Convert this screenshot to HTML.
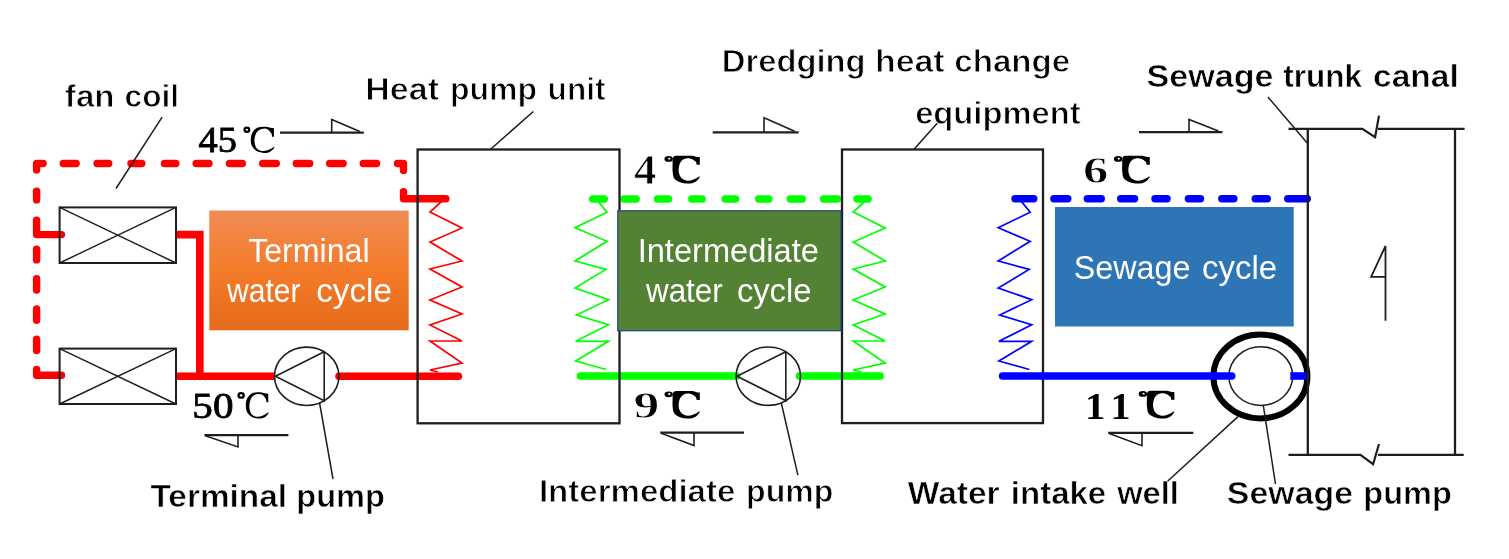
<!DOCTYPE html>
<html><head><meta charset="utf-8"><style>
html,body{margin:0;padding:0;background:#fff;}
svg{display:block;filter:blur(0.6px);}
</style></head><body>
<svg width="1509" height="559" viewBox="0 0 1509 559">
<rect width="1509" height="559" fill="#fff"/>
<line x1="63.3" y1="163.5" x2="76.1" y2="163.5" stroke="#ff0000" stroke-width="7.4" stroke-linecap="round"/>
<line x1="97.1" y1="163.5" x2="108.7" y2="163.5" stroke="#ff0000" stroke-width="7.4" stroke-linecap="round"/>
<line x1="131.0" y1="163.5" x2="141.8" y2="163.5" stroke="#ff0000" stroke-width="7.4" stroke-linecap="round"/>
<line x1="164.5" y1="163.5" x2="175.8" y2="163.5" stroke="#ff0000" stroke-width="7.4" stroke-linecap="round"/>
<line x1="196.2" y1="163.5" x2="209.0" y2="163.5" stroke="#ff0000" stroke-width="7.4" stroke-linecap="round"/>
<line x1="229.5" y1="163.5" x2="242.3" y2="163.5" stroke="#ff0000" stroke-width="7.4" stroke-linecap="round"/>
<line x1="262.7" y1="163.5" x2="276.3" y2="163.5" stroke="#ff0000" stroke-width="7.4" stroke-linecap="round"/>
<line x1="296.3" y1="163.5" x2="309.7" y2="163.5" stroke="#ff0000" stroke-width="7.4" stroke-linecap="round"/>
<line x1="329.7" y1="163.5" x2="343.1" y2="163.5" stroke="#ff0000" stroke-width="7.4" stroke-linecap="round"/>
<line x1="363.3" y1="163.5" x2="376.5" y2="163.5" stroke="#ff0000" stroke-width="7.4" stroke-linecap="round"/>
<polyline points="36.6,169.9 36.6,163.5 43.099999999999994,163.5" fill="none" stroke="#ff0000" stroke-width="7.4" stroke-linecap="round" stroke-linejoin="round"/>
<polyline points="397.5,163.5 403.5,163.5 403.5,170.4" fill="none" stroke="#ff0000" stroke-width="7.4" stroke-linecap="round" stroke-linejoin="round"/>
<polyline points="403.5,191.79999999999998 403.5,198.8 445.90000000000003,198.8" fill="none" stroke="#ff0000" stroke-width="7.4" stroke-linecap="round" stroke-linejoin="round"/>
<line x1="36.6" y1="191.2" x2="36.6" y2="199.9" stroke="#ff0000" stroke-width="7.4" stroke-linecap="round"/>
<line x1="36.6" y1="249.1" x2="36.6" y2="259.9" stroke="#ff0000" stroke-width="7.4" stroke-linecap="round"/>
<line x1="36.6" y1="278.8" x2="36.6" y2="290.0" stroke="#ff0000" stroke-width="7.4" stroke-linecap="round"/>
<line x1="36.6" y1="309.0" x2="36.6" y2="320.3" stroke="#ff0000" stroke-width="7.4" stroke-linecap="round"/>
<line x1="36.6" y1="339.3" x2="36.6" y2="350.5" stroke="#ff0000" stroke-width="7.4" stroke-linecap="round"/>
<polyline points="36.6,220.1 36.6,234.6 61.5,234.6" fill="none" stroke="#ff0000" stroke-width="7.4" stroke-linecap="round" stroke-linejoin="round"/>
<polyline points="36.6,369.5 36.6,375.2 61.5,375.2" fill="none" stroke="#ff0000" stroke-width="7.4" stroke-linecap="round" stroke-linejoin="round"/>
<polyline points="176,234.6 199.8,234.6 199.8,376.2" fill="none" stroke="#ff0000" stroke-width="7.6" stroke-linecap="butt" stroke-linejoin="miter"/>
<line x1="176" y1="376.2" x2="275" y2="376.2" stroke="#ff0000" stroke-width="7.6" stroke-linecap="butt"/>
<line x1="339" y1="376.2" x2="458.4" y2="376.2" stroke="#ff0000" stroke-width="7.6" stroke-linecap="round"/>
<polyline points="442,201 430,212 462,228 430,242 462,261 430,269 462,287 430,300 462,314 430,325 462,341 430,341 462,363 430,370 438,372" fill="none" stroke="#ff0000" stroke-width="1.7" stroke-linecap="butt" stroke-linejoin="miter"/>
<line x1="592.7" y1="199" x2="604.3" y2="199" stroke="#00ff00" stroke-width="7.4" stroke-linecap="round"/>
<line x1="624.1" y1="199" x2="636.2" y2="199" stroke="#00ff00" stroke-width="7.4" stroke-linecap="round"/>
<line x1="657.5" y1="199" x2="668.7" y2="199" stroke="#00ff00" stroke-width="7.4" stroke-linecap="round"/>
<line x1="691.8" y1="199" x2="702.1" y2="199" stroke="#00ff00" stroke-width="7.4" stroke-linecap="round"/>
<line x1="725.2" y1="199" x2="735.5" y2="199" stroke="#00ff00" stroke-width="7.4" stroke-linecap="round"/>
<line x1="758.7" y1="199" x2="768.9" y2="199" stroke="#00ff00" stroke-width="7.4" stroke-linecap="round"/>
<line x1="790.2" y1="199" x2="802.3" y2="199" stroke="#00ff00" stroke-width="7.4" stroke-linecap="round"/>
<line x1="823.6" y1="199" x2="837.5" y2="199" stroke="#00ff00" stroke-width="7.4" stroke-linecap="round"/>
<line x1="857.0" y1="199" x2="868.1" y2="199" stroke="#00ff00" stroke-width="7.4" stroke-linecap="round"/>
<polyline points="598.5,201.9 607,212.2 575,227.8 607,241.3 575,261 606,269.4 575,288 608.5,299.7 576.5,315 608.5,324.8 575.7,341.3 608.5,341.3 575.7,361 606.2,369.5" fill="none" stroke="#00ff00" stroke-width="1.7" stroke-linecap="butt" stroke-linejoin="miter"/>
<polyline points="865.2,201 853.2,212 885.2,228 853.2,242 885.2,261 853.2,269 885.2,287 853.2,300 885.2,314 853.2,325 885.2,341 853.2,341 885.2,363 853.2,370 861.2,372" fill="none" stroke="#00ff00" stroke-width="1.7" stroke-linecap="butt" stroke-linejoin="miter"/>
<line x1="580.5" y1="376" x2="736.5" y2="376" stroke="#00ff00" stroke-width="7.6" stroke-linecap="round"/>
<line x1="799.5" y1="376" x2="880.2" y2="376" stroke="#00ff00" stroke-width="7.6" stroke-linecap="round"/>
<line x1="1015.0" y1="198.7" x2="1033.8" y2="198.7" stroke="#0000ff" stroke-width="7.4" stroke-linecap="round"/>
<line x1="1053.9" y1="198.7" x2="1067.8" y2="198.7" stroke="#0000ff" stroke-width="7.4" stroke-linecap="round"/>
<line x1="1087.3" y1="198.7" x2="1101.3" y2="198.7" stroke="#0000ff" stroke-width="7.4" stroke-linecap="round"/>
<line x1="1120.7" y1="198.7" x2="1134.6" y2="198.7" stroke="#0000ff" stroke-width="7.4" stroke-linecap="round"/>
<line x1="1155.0" y1="198.7" x2="1167.1" y2="198.7" stroke="#0000ff" stroke-width="7.4" stroke-linecap="round"/>
<line x1="1188.4" y1="198.7" x2="1200.5" y2="198.7" stroke="#0000ff" stroke-width="7.4" stroke-linecap="round"/>
<line x1="1221.8" y1="198.7" x2="1233.9" y2="198.7" stroke="#0000ff" stroke-width="7.4" stroke-linecap="round"/>
<line x1="1255.2" y1="198.7" x2="1267.3" y2="198.7" stroke="#0000ff" stroke-width="7.4" stroke-linecap="round"/>
<line x1="1287.7" y1="198.7" x2="1307.3" y2="198.7" stroke="#0000ff" stroke-width="7.4" stroke-linecap="round"/>
<polyline points="1021.7,201.9 1030.2,212.2 998.2,227.8 1030.2,241.3 998.2,261 1029.2,269.4 998.2,288 1031.7,299.7 999.7,315 1031.7,324.8 998.9000000000001,341.3 1031.7,341.3 998.9000000000001,361 1029.4,369.5" fill="none" stroke="#0000ff" stroke-width="1.7" stroke-linecap="butt" stroke-linejoin="miter"/>
<rect x="59.6" y="207.4" width="116.4" height="55.599999999999994" fill="none" stroke="#1e1e1e" stroke-width="2"/>
<line x1="59.6" y1="207.4" x2="176" y2="263" stroke="#1e1e1e" stroke-width="1.4" stroke-linecap="butt"/>
<line x1="59.6" y1="263" x2="176" y2="207.4" stroke="#1e1e1e" stroke-width="1.4" stroke-linecap="butt"/>
<rect x="59.6" y="348.6" width="116.4" height="55.39999999999998" fill="none" stroke="#1e1e1e" stroke-width="2"/>
<line x1="59.6" y1="348.6" x2="176" y2="404" stroke="#1e1e1e" stroke-width="1.4" stroke-linecap="butt"/>
<line x1="59.6" y1="404" x2="176" y2="348.6" stroke="#1e1e1e" stroke-width="1.4" stroke-linecap="butt"/>
<line x1="162.1" y1="117.2" x2="116" y2="188.5" stroke="#1e1e1e" stroke-width="1.5" stroke-linecap="butt"/>
<rect x="417.6" y="149.5" width="201.9" height="273.8" fill="none" stroke="#1e1e1e" stroke-width="2.3"/>
<line x1="533.3" y1="111.5" x2="490.3" y2="149.5" stroke="#1e1e1e" stroke-width="1.5" stroke-linecap="butt"/>
<rect x="842" y="149.5" width="201" height="273.6" fill="none" stroke="#1e1e1e" stroke-width="2.3"/>
<line x1="939" y1="121.2" x2="913.8" y2="149.5" stroke="#1e1e1e" stroke-width="1.5" stroke-linecap="butt"/>
<ellipse cx="306.7" cy="376.3" rx="32.2" ry="29.2" fill="none" stroke="#1e1e1e" stroke-width="1.6"/>
<polyline points="324.2,351.8 275.4,376.3 324.2,400.8 324.2,351.8" fill="none" stroke="#1e1e1e" stroke-width="1.6" stroke-linecap="butt" stroke-linejoin="miter"/>
<ellipse cx="768.3" cy="376.2" rx="32.2" ry="29.2" fill="none" stroke="#1e1e1e" stroke-width="1.6"/>
<polyline points="785.8,351.7 737.0,376.2 785.8,400.7 785.8,351.7" fill="none" stroke="#1e1e1e" stroke-width="1.6" stroke-linecap="butt" stroke-linejoin="miter"/>
<line x1="319.5" y1="402.5" x2="333" y2="479" stroke="#1e1e1e" stroke-width="1.5" stroke-linecap="butt"/>
<line x1="781.2" y1="402.5" x2="797.9" y2="475.1" stroke="#1e1e1e" stroke-width="1.5" stroke-linecap="butt"/>
<ellipse cx="1260.4" cy="376.4" rx="47.0" ry="42.0" fill="none" stroke="#000" stroke-width="6"/>
<ellipse cx="1260.8" cy="376.1" rx="31.9" ry="29.3" fill="none" stroke="#1e1e1e" stroke-width="1.5"/>
<line x1="1002.5999999999999" y1="376" x2="1231.7" y2="376" stroke="#0000ff" stroke-width="7.6" stroke-linecap="round"/>
<line x1="1290.3" y1="376" x2="1306.6" y2="376" stroke="#0000ff" stroke-width="7.6" stroke-linecap="butt"/>
<line x1="1263.3" y1="405.4" x2="1275.5" y2="484.1" stroke="#1e1e1e" stroke-width="1.5" stroke-linecap="butt"/>
<line x1="1238" y1="416.6" x2="1167.3" y2="481.5" stroke="#1e1e1e" stroke-width="1.5" stroke-linecap="butt"/>
<polyline points="1288.5,128.8 1362.3,128.8 1375.1,137.2 1379,115.6" fill="none" stroke="#1e1e1e" stroke-width="2.2" stroke-linecap="butt" stroke-linejoin="miter"/>
<line x1="1378" y1="128.8" x2="1464.6" y2="128.8" stroke="#1e1e1e" stroke-width="2.2" stroke-linecap="butt"/>
<polyline points="1288.5,454.8 1360.4,454.8 1373.1,464.2 1379,444" fill="none" stroke="#1e1e1e" stroke-width="2.2" stroke-linecap="butt" stroke-linejoin="miter"/>
<line x1="1378" y1="454.8" x2="1463.7" y2="454.8" stroke="#1e1e1e" stroke-width="2.2" stroke-linecap="butt"/>
<line x1="1307.8" y1="128.8" x2="1307.8" y2="454.8" stroke="#1e1e1e" stroke-width="2.3" stroke-linecap="butt"/>
<line x1="1455.0" y1="128.8" x2="1455.0" y2="454.8" stroke="#1e1e1e" stroke-width="2.3" stroke-linecap="butt"/>
<line x1="1267.9" y1="96.9" x2="1307.2" y2="143.1" stroke="#1e1e1e" stroke-width="1.5" stroke-linecap="butt"/>
<polyline points="1385.5,320.8 1385.5,246 1371.1,276.8 1385.5,276.8" fill="none" stroke="#1e1e1e" stroke-width="1.8" stroke-linecap="butt" stroke-linejoin="miter"/>
<line x1="280" y1="132.7" x2="363.8" y2="132.7" stroke="#1e1e1e" stroke-width="2.2" stroke-linecap="butt"/>
<polyline points="331.7,132.7 331.7,119.4 359.8,131.5" fill="none" stroke="#1e1e1e" stroke-width="1.6" stroke-linecap="butt" stroke-linejoin="miter"/>
<line x1="712.7" y1="132.4" x2="798.6" y2="132.4" stroke="#1e1e1e" stroke-width="2.2" stroke-linecap="butt"/>
<polyline points="764,132.4 764,117.7 794.6,131.20000000000002" fill="none" stroke="#1e1e1e" stroke-width="1.6" stroke-linecap="butt" stroke-linejoin="miter"/>
<line x1="1139" y1="132.2" x2="1222.4" y2="132.2" stroke="#1e1e1e" stroke-width="2.2" stroke-linecap="butt"/>
<polyline points="1189,132.2 1189,119.4 1218.4,131.0" fill="none" stroke="#1e1e1e" stroke-width="1.6" stroke-linecap="butt" stroke-linejoin="miter"/>
<line x1="204.4" y1="435.1" x2="288.4" y2="435.1" stroke="#1e1e1e" stroke-width="2.2" stroke-linecap="butt"/>
<polyline points="238,435.1 238,447 205.4,435.70000000000005" fill="none" stroke="#1e1e1e" stroke-width="1.6" stroke-linecap="butt" stroke-linejoin="miter"/>
<line x1="660.2" y1="432.6" x2="744" y2="432.6" stroke="#1e1e1e" stroke-width="2.2" stroke-linecap="butt"/>
<polyline points="694,432.6 694,445.6 661.2,433.20000000000005" fill="none" stroke="#1e1e1e" stroke-width="1.6" stroke-linecap="butt" stroke-linejoin="miter"/>
<line x1="1108.2" y1="432.8" x2="1193.3" y2="432.8" stroke="#1e1e1e" stroke-width="2.2" stroke-linecap="butt"/>
<polyline points="1142,432.8 1142,445.7 1109.2,433.40000000000003" fill="none" stroke="#1e1e1e" stroke-width="1.6" stroke-linecap="butt" stroke-linejoin="miter"/>
<defs><linearGradient id="og" x1="0" y1="0" x2="0" y2="1"><stop offset="0" stop-color="#f18c55"/><stop offset="0.5" stop-color="#f47b2a"/><stop offset="1" stop-color="#e46b1a"/></linearGradient></defs>
<rect x="209.3" y="210.5" width="199.4" height="119.8" fill="url(#og)"/>
<rect x="617.8" y="210.8" width="223.1" height="119.9" fill="#548235" stroke="#1f4e79" stroke-width="1.3"/>
<rect x="1055" y="207" width="238.7" height="119.5" fill="#2e75b6"/>
<text x="64.86" y="107.4" font-family="Liberation Sans" font-weight="bold" font-size="30.6" fill="#000" textLength="49.79" lengthAdjust="spacingAndGlyphs" style="white-space:pre" stroke="#fff" stroke-width="0.85">fan</text>
<text x="124.61" y="107.4" font-family="Liberation Sans" font-weight="bold" font-size="30.6" fill="#000" textLength="54.47" lengthAdjust="spacingAndGlyphs" style="white-space:pre" stroke="#fff" stroke-width="0.85">coil</text>
<text x="365.27" y="100.3" font-family="Liberation Sans" font-weight="bold" font-size="30.6" fill="#000" textLength="73.77" lengthAdjust="spacingAndGlyphs" style="white-space:pre" stroke="#fff" stroke-width="0.85">Heat</text>
<text x="449.91" y="100.3" font-family="Liberation Sans" font-weight="bold" font-size="30.6" fill="#000" textLength="87.03" lengthAdjust="spacingAndGlyphs" style="white-space:pre" stroke="#fff" stroke-width="0.85">pump</text>
<text x="547.63" y="100.3" font-family="Liberation Sans" font-weight="bold" font-size="30.6" fill="#000" textLength="57.90" lengthAdjust="spacingAndGlyphs" style="white-space:pre" stroke="#fff" stroke-width="0.85">unit</text>
<text x="721.76" y="72.3" font-family="Liberation Sans" font-weight="bold" font-size="30.6" fill="#000" textLength="143.92" lengthAdjust="spacingAndGlyphs" style="white-space:pre" stroke="#fff" stroke-width="0.85">Dredging</text>
<text x="874.91" y="72.3" font-family="Liberation Sans" font-weight="bold" font-size="30.6" fill="#000" textLength="69.75" lengthAdjust="spacingAndGlyphs" style="white-space:pre" stroke="#fff" stroke-width="0.85">heat</text>
<text x="954.25" y="72.3" font-family="Liberation Sans" font-weight="bold" font-size="30.6" fill="#000" textLength="115.95" lengthAdjust="spacingAndGlyphs" style="white-space:pre" stroke="#fff" stroke-width="0.85">change</text>
<text x="915.16" y="124.0" font-family="Liberation Sans" font-weight="bold" font-size="30.6" fill="#000" textLength="165.49" lengthAdjust="spacingAndGlyphs" style="white-space:pre" stroke="#fff" stroke-width="0.85">equipment</text>
<text x="1146.48" y="87.2" font-family="Liberation Sans" font-weight="bold" font-size="30.6" fill="#000" textLength="127.06" lengthAdjust="spacingAndGlyphs" style="white-space:pre" stroke="#fff" stroke-width="0.55">Sewage</text>
<text x="1283.29" y="87.2" font-family="Liberation Sans" font-weight="bold" font-size="30.6" fill="#000" textLength="78.60" lengthAdjust="spacingAndGlyphs" style="white-space:pre" stroke="#fff" stroke-width="0.55">trunk</text>
<text x="1373.13" y="87.2" font-family="Liberation Sans" font-weight="bold" font-size="30.6" fill="#000" textLength="85.61" lengthAdjust="spacingAndGlyphs" style="white-space:pre" stroke="#fff" stroke-width="0.55">canal</text>
<text x="150.43" y="507.0" font-family="Liberation Sans" font-weight="bold" font-size="30.6" fill="#000" textLength="136.63" lengthAdjust="spacingAndGlyphs" style="white-space:pre" stroke="#fff" stroke-width="0.55">Terminal</text>
<text x="296.27" y="507.0" font-family="Liberation Sans" font-weight="bold" font-size="30.6" fill="#000" textLength="88.59" lengthAdjust="spacingAndGlyphs" style="white-space:pre" stroke="#fff" stroke-width="0.55">pump</text>
<text x="538.94" y="502.0" font-family="Liberation Sans" font-weight="bold" font-size="30.6" fill="#000" textLength="196.42" lengthAdjust="spacingAndGlyphs" style="white-space:pre" stroke="#fff" stroke-width="0.8">Intermediate</text>
<text x="746.11" y="502.0" font-family="Liberation Sans" font-weight="bold" font-size="30.6" fill="#000" textLength="87.24" lengthAdjust="spacingAndGlyphs" style="white-space:pre" stroke="#fff" stroke-width="0.8">pump</text>
<text x="907.80" y="503.8" font-family="Liberation Sans" font-weight="bold" font-size="30.6" fill="#000" textLength="91.81" lengthAdjust="spacingAndGlyphs" style="white-space:pre" stroke="#fff" stroke-width="0.55">Water</text>
<text x="1010.88" y="503.8" font-family="Liberation Sans" font-weight="bold" font-size="30.6" fill="#000" textLength="95.29" lengthAdjust="spacingAndGlyphs" style="white-space:pre" stroke="#fff" stroke-width="0.55">intake</text>
<text x="1117.20" y="503.8" font-family="Liberation Sans" font-weight="bold" font-size="30.6" fill="#000" textLength="61.70" lengthAdjust="spacingAndGlyphs" style="white-space:pre" stroke="#fff" stroke-width="0.55">well</text>
<text x="1226.89" y="504.2" font-family="Liberation Sans" font-weight="bold" font-size="30.6" fill="#000" textLength="126.15" lengthAdjust="spacingAndGlyphs" style="white-space:pre" stroke="#fff" stroke-width="0.55">Sewage</text>
<text x="1363.38" y="504.2" font-family="Liberation Sans" font-weight="bold" font-size="30.6" fill="#000" textLength="88.38" lengthAdjust="spacingAndGlyphs" style="white-space:pre" stroke="#fff" stroke-width="0.55">pump</text>
<text x="248.18" y="261.9" font-family="Liberation Sans" font-weight="normal" font-size="33.3" fill="#fff" textLength="121.47" lengthAdjust="spacingAndGlyphs" style="white-space:pre">Terminal</text>
<text x="227.00" y="302.2" font-family="Liberation Sans" font-weight="normal" font-size="33" fill="#fff" textLength="73.61" lengthAdjust="spacingAndGlyphs" style="white-space:pre">water</text>
<text x="316.29" y="302.2" font-family="Liberation Sans" font-weight="normal" font-size="33" fill="#fff" textLength="75.55" lengthAdjust="spacingAndGlyphs" style="white-space:pre">cycle</text>
<text x="637.66" y="261.9" font-family="Liberation Sans" font-weight="normal" font-size="33.3" fill="#fff" textLength="181.30" lengthAdjust="spacingAndGlyphs" style="white-space:pre">Intermediate</text>
<text x="646.00" y="302.2" font-family="Liberation Sans" font-weight="normal" font-size="33" fill="#fff" textLength="76.73" lengthAdjust="spacingAndGlyphs" style="white-space:pre">water</text>
<text x="736.91" y="302.2" font-family="Liberation Sans" font-weight="normal" font-size="33" fill="#fff" textLength="74.51" lengthAdjust="spacingAndGlyphs" style="white-space:pre">cycle</text>
<text x="1073.73" y="278.5" font-family="Liberation Sans" font-weight="normal" font-size="33" fill="#fff" textLength="116.65" lengthAdjust="spacingAndGlyphs" style="white-space:pre">Sewage</text>
<text x="1202.00" y="278.5" font-family="Liberation Sans" font-weight="normal" font-size="33" fill="#fff" textLength="75.14" lengthAdjust="spacingAndGlyphs" style="white-space:pre">cycle</text>
<text x="198.53" y="151.85" font-family="Liberation Serif" font-weight="normal" font-size="35.96" fill="#000" textLength="38.40" lengthAdjust="spacingAndGlyphs" stroke="#000" stroke-width="0.8">45</text>
<text x="192.34" y="417.94" font-family="Liberation Serif" font-weight="normal" font-size="36.59" fill="#000" textLength="41.10" lengthAdjust="spacingAndGlyphs" stroke="#000" stroke-width="0.8">50</text>
<text x="634.14" y="183.61" font-family="Liberation Serif" font-weight="bold" font-size="41.83" fill="#000" textLength="22.45" lengthAdjust="spacingAndGlyphs" stroke="#fff" stroke-width="0.8">4</text>
<text x="1082.92" y="183.23" font-family="Liberation Serif" font-weight="bold" font-size="38.22" fill="#000" textLength="25.40" lengthAdjust="spacingAndGlyphs" stroke="#fff" stroke-width="0.8">6</text>
<text x="633.58" y="418.22" font-family="Liberation Serif" font-weight="bold" font-size="38.81" fill="#000" textLength="25.83" lengthAdjust="spacingAndGlyphs" stroke="#fff" stroke-width="0.8">9</text>
<text x="1084.93" y="418.61" font-family="Liberation Serif" font-weight="bold" font-size="38.94" fill="#000" textLength="20.41" lengthAdjust="spacingAndGlyphs">1</text>
<text x="1110.40" y="418.61" font-family="Liberation Serif" font-weight="bold" font-size="38.94" fill="#000" textLength="20.00" lengthAdjust="spacingAndGlyphs">1</text>
<path transform="translate(250.8,126.8) scale(23.600,26.100)" d="M0.98,0.06 L0.98,0.38 L0.9,0.38 C0.895,0.358 0.900,0.297 0.870,0.250 C0.840,0.203 0.772,0.130 0.720,0.100 C0.668,0.070 0.620,0.067 0.560,0.070 C0.500,0.073 0.417,0.088 0.360,0.120 C0.303,0.152 0.254,0.197 0.220,0.260 C0.186,0.323 0.160,0.423 0.155,0.500 C0.150,0.577 0.166,0.658 0.190,0.720 C0.214,0.782 0.248,0.835 0.300,0.870 C0.352,0.905 0.433,0.925 0.500,0.930 C0.567,0.935 0.638,0.917 0.700,0.900 C0.762,0.883 0.823,0.853 0.870,0.830 C0.917,0.807 0.962,0.772 0.980,0.760 L1.0,0.79 C0.983,0.808 0.942,0.868 0.900,0.900 C0.858,0.932 0.808,0.963 0.750,0.980 C0.692,0.997 0.617,1.002 0.550,1.000 C0.483,0.998 0.417,0.993 0.350,0.970 C0.283,0.947 0.203,0.905 0.150,0.860 C0.097,0.815 0.055,0.760 0.030,0.700 C0.005,0.640 0.000,0.567 0.000,0.500 C0.000,0.433 0.008,0.360 0.030,0.300 C0.052,0.240 0.085,0.185 0.130,0.140 C0.175,0.095 0.238,0.053 0.300,0.030 C0.362,0.007 0.433,0.003 0.500,0.000 C0.567,-0.003 0.642,0.003 0.700,0.010 C0.758,0.017 0.803,0.032 0.850,0.040 C0.897,0.048 0.958,0.057 0.980,0.060 Z" fill="#000"/>
<path transform="translate(245.8,392.2) scale(22.900,26.400)" d="M0.98,0.06 L0.98,0.38 L0.9,0.38 C0.895,0.358 0.900,0.297 0.870,0.250 C0.840,0.203 0.772,0.130 0.720,0.100 C0.668,0.070 0.620,0.067 0.560,0.070 C0.500,0.073 0.417,0.088 0.360,0.120 C0.303,0.152 0.254,0.197 0.220,0.260 C0.186,0.323 0.160,0.423 0.155,0.500 C0.150,0.577 0.166,0.658 0.190,0.720 C0.214,0.782 0.248,0.835 0.300,0.870 C0.352,0.905 0.433,0.925 0.500,0.930 C0.567,0.935 0.638,0.917 0.700,0.900 C0.762,0.883 0.823,0.853 0.870,0.830 C0.917,0.807 0.962,0.772 0.980,0.760 L1.0,0.79 C0.983,0.808 0.942,0.868 0.900,0.900 C0.858,0.932 0.808,0.963 0.750,0.980 C0.692,0.997 0.617,1.002 0.550,1.000 C0.483,0.998 0.417,0.993 0.350,0.970 C0.283,0.947 0.203,0.905 0.150,0.860 C0.097,0.815 0.055,0.760 0.030,0.700 C0.005,0.640 0.000,0.567 0.000,0.500 C0.000,0.433 0.008,0.360 0.030,0.300 C0.052,0.240 0.085,0.185 0.130,0.140 C0.175,0.095 0.238,0.053 0.300,0.030 C0.362,0.007 0.433,0.003 0.500,0.000 C0.567,-0.003 0.642,0.003 0.700,0.010 C0.758,0.017 0.803,0.032 0.850,0.040 C0.897,0.048 0.958,0.057 0.980,0.060 Z" fill="#000"/>
<g transform="translate(672.6,155.7) scale(27.200,27.900)"><path d="M1.0,0.052 L1.0,0.323 L0.882,0.323 C0.877,0.306 0.885,0.255 0.855,0.220 C0.825,0.185 0.748,0.137 0.700,0.115 C0.652,0.093 0.616,0.087 0.566,0.090 C0.516,0.092 0.448,0.103 0.400,0.130 C0.352,0.157 0.309,0.197 0.280,0.250 C0.251,0.303 0.233,0.388 0.225,0.450 C0.217,0.512 0.222,0.567 0.235,0.620 C0.247,0.673 0.269,0.730 0.300,0.770 C0.331,0.810 0.376,0.839 0.420,0.860 C0.464,0.881 0.519,0.894 0.566,0.897 C0.613,0.900 0.656,0.892 0.700,0.880 C0.744,0.868 0.781,0.851 0.829,0.827 C0.877,0.803 0.961,0.751 0.987,0.736 L1.0,0.762 C0.987,0.780 0.946,0.842 0.920,0.870 C0.894,0.898 0.875,0.911 0.842,0.930 C0.809,0.949 0.762,0.973 0.720,0.985 C0.678,0.997 0.642,0.999 0.592,1.000 C0.542,1.001 0.477,1.000 0.420,0.990 C0.363,0.980 0.300,0.963 0.250,0.943 C0.200,0.923 0.156,0.900 0.120,0.870 C0.084,0.840 0.055,0.815 0.035,0.762 C0.015,0.709 0.006,0.627 0.000,0.550 C-0.006,0.473 -0.001,0.372 0.000,0.300 C0.001,0.228 -0.002,0.165 0.005,0.120 C0.012,0.075 0.017,0.050 0.040,0.030 C0.062,0.010 0.097,0.005 0.140,0.000 C0.183,-0.005 0.242,0.000 0.300,0.000 C0.358,0.000 0.429,0.000 0.487,0.000 C0.545,0.000 0.602,-0.001 0.650,0.000 C0.698,0.001 0.737,0.002 0.776,0.008 C0.815,0.014 0.845,0.032 0.882,0.039 C0.919,0.046 0.980,0.050 1.000,0.052 Z" fill="#000"/><path d="M-0.30,0.115 a0.155,0.105 0 1,0 0.31,0 a0.155,0.105 0 1,0 -0.31,0 Z M-0.165,0.105 a0.042,0.034 0 1,0 0.084,0 a0.042,0.034 0 1,0 -0.084,0 Z" fill="#000" fill-rule="evenodd"/></g>
<g transform="translate(1122.2,155.7) scale(27.600,27.900)"><path d="M1.0,0.052 L1.0,0.323 L0.882,0.323 C0.877,0.306 0.885,0.255 0.855,0.220 C0.825,0.185 0.748,0.137 0.700,0.115 C0.652,0.093 0.616,0.087 0.566,0.090 C0.516,0.092 0.448,0.103 0.400,0.130 C0.352,0.157 0.309,0.197 0.280,0.250 C0.251,0.303 0.233,0.388 0.225,0.450 C0.217,0.512 0.222,0.567 0.235,0.620 C0.247,0.673 0.269,0.730 0.300,0.770 C0.331,0.810 0.376,0.839 0.420,0.860 C0.464,0.881 0.519,0.894 0.566,0.897 C0.613,0.900 0.656,0.892 0.700,0.880 C0.744,0.868 0.781,0.851 0.829,0.827 C0.877,0.803 0.961,0.751 0.987,0.736 L1.0,0.762 C0.987,0.780 0.946,0.842 0.920,0.870 C0.894,0.898 0.875,0.911 0.842,0.930 C0.809,0.949 0.762,0.973 0.720,0.985 C0.678,0.997 0.642,0.999 0.592,1.000 C0.542,1.001 0.477,1.000 0.420,0.990 C0.363,0.980 0.300,0.963 0.250,0.943 C0.200,0.923 0.156,0.900 0.120,0.870 C0.084,0.840 0.055,0.815 0.035,0.762 C0.015,0.709 0.006,0.627 0.000,0.550 C-0.006,0.473 -0.001,0.372 0.000,0.300 C0.001,0.228 -0.002,0.165 0.005,0.120 C0.012,0.075 0.017,0.050 0.040,0.030 C0.062,0.010 0.097,0.005 0.140,0.000 C0.183,-0.005 0.242,0.000 0.300,0.000 C0.358,0.000 0.429,0.000 0.487,0.000 C0.545,0.000 0.602,-0.001 0.650,0.000 C0.698,0.001 0.737,0.002 0.776,0.008 C0.815,0.014 0.845,0.032 0.882,0.039 C0.919,0.046 0.980,0.050 1.000,0.052 Z" fill="#000"/><path d="M-0.30,0.115 a0.155,0.105 0 1,0 0.31,0 a0.155,0.105 0 1,0 -0.31,0 Z M-0.165,0.105 a0.042,0.034 0 1,0 0.084,0 a0.042,0.034 0 1,0 -0.084,0 Z" fill="#000" fill-rule="evenodd"/></g>
<g transform="translate(672.6,391.1) scale(27.200,27.500)"><path d="M1.0,0.052 L1.0,0.323 L0.882,0.323 C0.877,0.306 0.885,0.255 0.855,0.220 C0.825,0.185 0.748,0.137 0.700,0.115 C0.652,0.093 0.616,0.087 0.566,0.090 C0.516,0.092 0.448,0.103 0.400,0.130 C0.352,0.157 0.309,0.197 0.280,0.250 C0.251,0.303 0.233,0.388 0.225,0.450 C0.217,0.512 0.222,0.567 0.235,0.620 C0.247,0.673 0.269,0.730 0.300,0.770 C0.331,0.810 0.376,0.839 0.420,0.860 C0.464,0.881 0.519,0.894 0.566,0.897 C0.613,0.900 0.656,0.892 0.700,0.880 C0.744,0.868 0.781,0.851 0.829,0.827 C0.877,0.803 0.961,0.751 0.987,0.736 L1.0,0.762 C0.987,0.780 0.946,0.842 0.920,0.870 C0.894,0.898 0.875,0.911 0.842,0.930 C0.809,0.949 0.762,0.973 0.720,0.985 C0.678,0.997 0.642,0.999 0.592,1.000 C0.542,1.001 0.477,1.000 0.420,0.990 C0.363,0.980 0.300,0.963 0.250,0.943 C0.200,0.923 0.156,0.900 0.120,0.870 C0.084,0.840 0.055,0.815 0.035,0.762 C0.015,0.709 0.006,0.627 0.000,0.550 C-0.006,0.473 -0.001,0.372 0.000,0.300 C0.001,0.228 -0.002,0.165 0.005,0.120 C0.012,0.075 0.017,0.050 0.040,0.030 C0.062,0.010 0.097,0.005 0.140,0.000 C0.183,-0.005 0.242,0.000 0.300,0.000 C0.358,0.000 0.429,0.000 0.487,0.000 C0.545,0.000 0.602,-0.001 0.650,0.000 C0.698,0.001 0.737,0.002 0.776,0.008 C0.815,0.014 0.845,0.032 0.882,0.039 C0.919,0.046 0.980,0.050 1.000,0.052 Z" fill="#000"/><path d="M-0.30,0.115 a0.155,0.105 0 1,0 0.31,0 a0.155,0.105 0 1,0 -0.31,0 Z M-0.165,0.105 a0.042,0.034 0 1,0 0.084,0 a0.042,0.034 0 1,0 -0.084,0 Z" fill="#000" fill-rule="evenodd"/></g>
<g transform="translate(1146.9,390.7) scale(27.500,27.900)"><path d="M1.0,0.052 L1.0,0.323 L0.882,0.323 C0.877,0.306 0.885,0.255 0.855,0.220 C0.825,0.185 0.748,0.137 0.700,0.115 C0.652,0.093 0.616,0.087 0.566,0.090 C0.516,0.092 0.448,0.103 0.400,0.130 C0.352,0.157 0.309,0.197 0.280,0.250 C0.251,0.303 0.233,0.388 0.225,0.450 C0.217,0.512 0.222,0.567 0.235,0.620 C0.247,0.673 0.269,0.730 0.300,0.770 C0.331,0.810 0.376,0.839 0.420,0.860 C0.464,0.881 0.519,0.894 0.566,0.897 C0.613,0.900 0.656,0.892 0.700,0.880 C0.744,0.868 0.781,0.851 0.829,0.827 C0.877,0.803 0.961,0.751 0.987,0.736 L1.0,0.762 C0.987,0.780 0.946,0.842 0.920,0.870 C0.894,0.898 0.875,0.911 0.842,0.930 C0.809,0.949 0.762,0.973 0.720,0.985 C0.678,0.997 0.642,0.999 0.592,1.000 C0.542,1.001 0.477,1.000 0.420,0.990 C0.363,0.980 0.300,0.963 0.250,0.943 C0.200,0.923 0.156,0.900 0.120,0.870 C0.084,0.840 0.055,0.815 0.035,0.762 C0.015,0.709 0.006,0.627 0.000,0.550 C-0.006,0.473 -0.001,0.372 0.000,0.300 C0.001,0.228 -0.002,0.165 0.005,0.120 C0.012,0.075 0.017,0.050 0.040,0.030 C0.062,0.010 0.097,0.005 0.140,0.000 C0.183,-0.005 0.242,0.000 0.300,0.000 C0.358,0.000 0.429,0.000 0.487,0.000 C0.545,0.000 0.602,-0.001 0.650,0.000 C0.698,0.001 0.737,0.002 0.776,0.008 C0.815,0.014 0.845,0.032 0.882,0.039 C0.919,0.046 0.980,0.050 1.000,0.052 Z" fill="#000"/><path d="M-0.30,0.115 a0.155,0.105 0 1,0 0.31,0 a0.155,0.105 0 1,0 -0.31,0 Z M-0.165,0.105 a0.042,0.034 0 1,0 0.084,0 a0.042,0.034 0 1,0 -0.084,0 Z" fill="#000" fill-rule="evenodd"/></g>
<ellipse cx="246.9" cy="129.7" rx="2.3" ry="2.1" fill="none" stroke="#000" stroke-width="2.3"/>
<ellipse cx="241.1" cy="395.4" rx="2.6" ry="2.3" fill="none" stroke="#000" stroke-width="2.3"/>
</svg>
</body></html>
